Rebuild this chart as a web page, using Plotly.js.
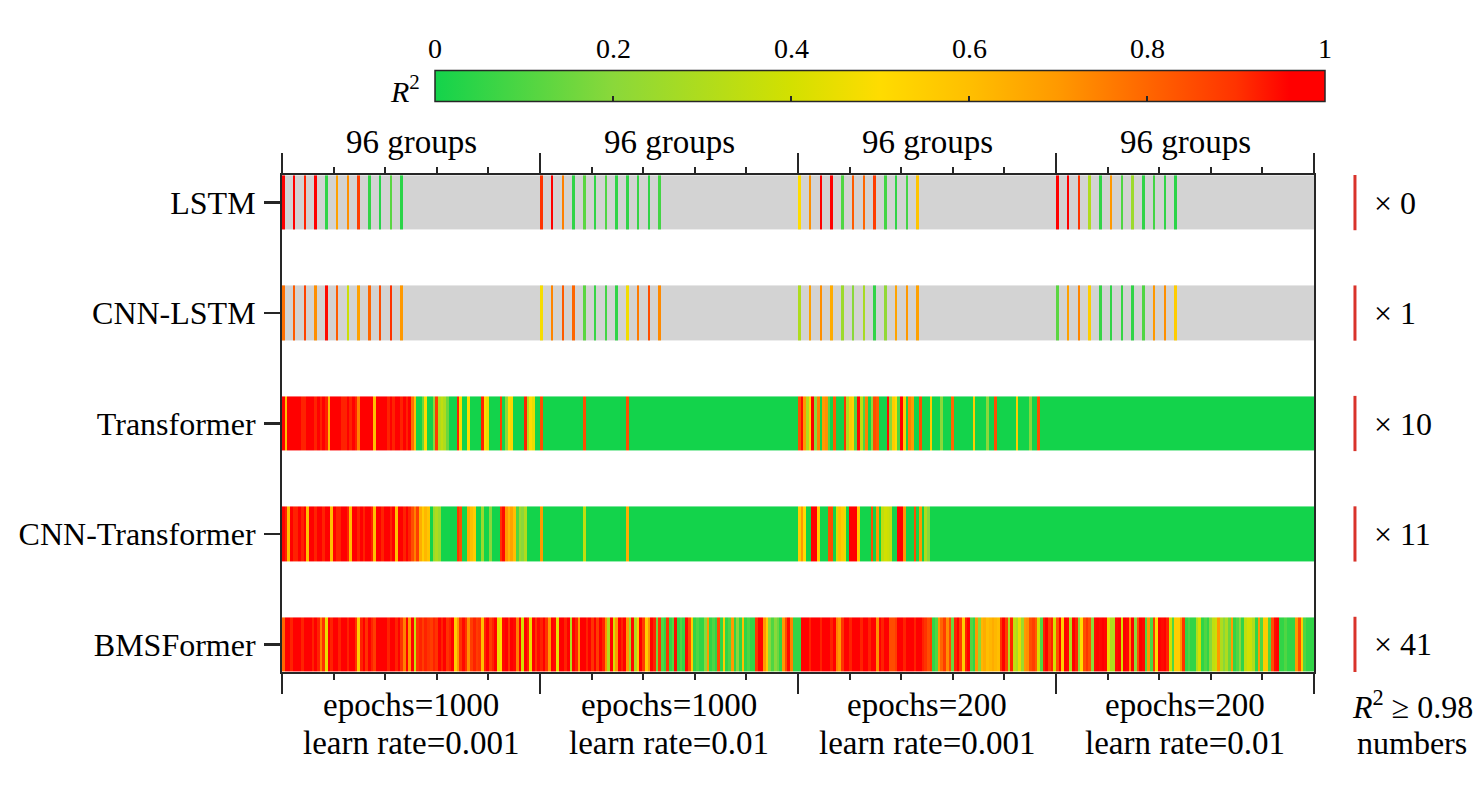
<!DOCTYPE html>
<html>
<head>
<meta charset="utf-8">
<script src="https://cdn.plot.ly/plotly-3.0.1.min.js"></script>
<style>
  html, body { margin: 0; padding: 0; background: #fff; }
  #chart { width: 1482px; height: 795px; }
</style>
</head>
<body>
<div id="chart"></div>
<script>
// ---- data ----
var groupSize = 96;
var models = ["LSTM", "CNN-LSTM", "Transformer", "CNN-Transformer", "BMSFormer"];
var topLabels = ["96 groups", "96 groups", "96 groups", "96 groups"];
var epochLabels = ["epochs=1000", "epochs=1000", "epochs=200", "epochs=200"];
var rateLabels = ["learn rate=0.001", "learn rate=0.01", "learn rate=0.001", "learn rate=0.01"];
var highCounts = [0, 1, 10, 11, 41];
var cbTicks = [0, 0.2, 0.4, 0.6, 0.8, 1];

// LSTM / CNN-LSTM only have results at these positions inside each group
var stripeOffsets = [0, 4, 8, 12, 16, 20, 24, 28, 32, 36, 40, 44];

var lstmG1 = [0.97, 0.97, 0.92, 0.96, 0.05, 0.68, 0.72, 0.88, 0.05, 0.03, 0.12, 0.04];
var lstmG2 = [0.9, 0.97, 0.75, 0.05, 0.12, 0.05, 0.1, 0.05, 0.05, 0.06, 0.05, 0.08];
var lstmG3 = [0.5, 0.72, 0.96, 0.97, 0.1, 0.82, 0.8, 0.88, 0.08, 0.05, 0.08, 0.58];
var lstmG4 = [0.98, 0.97, 0.9, 0.3, 0.05, 0.7, 0.1, 0.25, 0.05, 0.08, 0.05, 0.04];

var cnnLstmG1 = [0.78, 0.82, 0.87, 0.72, 0.95, 0.82, 0.38, 0.68, 0.8, 0.85, 0.9, 0.7];
var cnnLstmG2 = [0.48, 0.74, 0.82, 0.8, 0.12, 0.06, 0.08, 0.05, 0.47, 0.76, 0.85, 0.73];
var cnnLstmG3 = [0.3, 0.68, 0.72, 0.65, 0.25, 0.2, 0.28, 0.05, 0.22, 0.67, 0.7, 0.68];
var cnnLstmG4 = [0.12, 0.68, 0.74, 0.55, 0.06, 0.05, 0.06, 0.05, 0.1, 0.7, 0.72, 0.55];

var transG1 = [
  0.97, 0.6, 0.97, 0.97, 0.97, 0.97, 0.97, 0.92, 0.92, 0.97, 0.97, 0.97,
  0.92, 0.97, 0.92, 0.97, 0.92, 0.62, 0.97, 0.97, 0.97, 0.97, 0.92, 0.92,
  0.97, 0.92, 0.97, 0.92, 0.75, 0.97, 0.97, 0.97, 0.97, 0.97, 0.6, 0.97,
  0.97, 0.97, 0.97, 0.92, 0.97, 0.92, 0.97, 0.97, 0.92, 0.97, 0.92, 0.97,
  0.78, 0.6, 0, 0, 0.15, 0.5, 0, 0, 0.2, 0.88, 0.3, 0.35,
  0.3, 0.15, 0, 0, 0, 0.92, 0.5, 0, 0, 0.5, 0, 0,
  0, 0, 0.92, 0.5, 0.45, 0, 0, 0, 0, 0.88, 0, 0.2,
  0.5, 0.52, 0, 0, 0, 0, 0.92, 0.3, 0.5, 0.45, 0, 0
];
var transG2 = [
  0.85, 0, 0, 0, 0, 0, 0, 0, 0, 0, 0, 0,
  0, 0, 0, 0, 0.85, 0, 0, 0, 0, 0, 0, 0,
  0, 0, 0, 0, 0, 0, 0, 0, 0.85, 0, 0, 0,
  0, 0, 0, 0, 0, 0, 0, 0, 0, 0, 0, 0,
  0, 0, 0, 0, 0, 0, 0, 0, 0, 0, 0, 0,
  0, 0, 0, 0, 0, 0, 0, 0, 0, 0, 0, 0,
  0, 0, 0, 0, 0, 0, 0, 0, 0, 0, 0, 0,
  0, 0, 0, 0, 0, 0, 0, 0, 0, 0, 0, 0
];
var transG3 = [
  0.85, 0.95, 0.7, 0.3, 0.52, 0.97, 0.2, 0.75, 0, 0.7, 0.72, 0.1,
  0, 0.82, 0, 0, 0, 0.9, 0.3, 0.55, 0.52, 0.1, 0.95, 0.35,
  0.1, 0.75, 0, 0.2, 0.85, 0.82, 0, 0, 0, 0.95, 0.2, 0.55,
  0.5, 0.1, 0.97, 0.55, 0, 0.75, 0.7, 0, 0, 0.85, 0, 0,
  0, 0.55, 0, 0, 0, 0.2, 0, 0, 0, 0.8, 0, 0,
  0, 0, 0, 0, 0, 0.55, 0, 0, 0, 0, 0.2, 0,
  0, 0.85, 0, 0, 0, 0, 0, 0, 0, 0.55, 0, 0,
  0, 0, 0.2, 0, 0, 0.85, 0, 0, 0, 0, 0, 0
];
var transG4 = [
  0, 0, 0, 0, 0, 0, 0, 0, 0, 0, 0, 0,
  0, 0, 0, 0, 0, 0, 0, 0, 0, 0, 0, 0,
  0, 0, 0, 0, 0, 0, 0, 0, 0, 0, 0, 0,
  0, 0, 0, 0, 0, 0, 0, 0, 0, 0, 0, 0,
  0, 0, 0, 0, 0, 0, 0, 0, 0, 0, 0, 0,
  0, 0, 0, 0, 0, 0, 0, 0, 0, 0, 0, 0,
  0, 0, 0, 0, 0, 0, 0, 0, 0, 0, 0, 0,
  0, 0, 0, 0, 0, 0, 0, 0, 0, 0, 0, 0
];

var cnnTransG1 = [
  0.97, 0.92, 0.6, 0.97, 0.92, 0.92, 0.97, 0.92, 0.97, 0.6, 0.97, 0.97,
  0.92, 0.97, 0.97, 0.92, 0.97, 0.97, 0.6, 0.97, 0.92, 0.92, 0.97, 0.97,
  0.92, 0.6, 0.97, 0.97, 0.92, 0.97, 0.92, 0.97, 0.97, 0.92, 0.6, 0.97,
  0.97, 0.92, 0.97, 0.97, 0.92, 0.97, 0.6, 0.97, 0.97, 0.92, 0.97, 0.92,
  0.85, 0.75, 0.88, 0.65, 0.55, 0.62, 0.58, 0, 0.25, 0.3, 0.25, 0,
  0, 0, 0, 0, 0, 0.9, 0.85, 0, 0, 0.65, 0.6, 0.55,
  0, 0, 0.25, 0, 0, 0.2, 0, 0, 0, 0.9, 0.95, 0.7,
  0.62, 0.68, 0.6, 0.1, 0.25, 0.2, 0.3, 0, 0, 0, 0, 0
];
var cnnTransG2 = [
  0.7, 0, 0, 0, 0, 0, 0, 0, 0, 0, 0, 0,
  0, 0, 0, 0, 0.35, 0, 0, 0, 0, 0, 0, 0,
  0, 0, 0, 0, 0, 0, 0, 0, 0.65, 0, 0, 0,
  0, 0, 0, 0, 0, 0, 0, 0, 0, 0, 0, 0,
  0, 0, 0, 0, 0, 0, 0, 0, 0, 0, 0, 0,
  0, 0, 0, 0, 0, 0, 0, 0, 0, 0, 0, 0,
  0, 0, 0, 0, 0, 0, 0, 0, 0, 0, 0, 0,
  0, 0, 0, 0, 0, 0, 0, 0, 0, 0, 0, 0
];
var cnnTransG3 = [
  0.55, 0.7, 0.5, 0, 0, 0.97, 0.97, 0.55, 0, 0, 0, 0.85,
  0.85, 0, 0.4, 0.6, 0.55, 0.45, 0, 0.97, 0.97, 0.97, 0.55, 0,
  0, 0, 0, 0.85, 0, 0.7, 0, 0.35, 0.4, 0.38, 0.35, 0,
  0, 0.97, 0.97, 0.7, 0, 0, 0, 0.85, 0, 0.7, 0, 0.3,
  0.2, 0, 0, 0, 0, 0, 0, 0, 0, 0, 0, 0,
  0, 0, 0, 0, 0, 0, 0, 0, 0, 0, 0, 0,
  0, 0, 0, 0, 0, 0, 0, 0, 0, 0, 0, 0,
  0, 0, 0, 0, 0, 0, 0, 0, 0, 0, 0, 0
];
var cnnTransG4 = [
  0, 0, 0, 0, 0, 0, 0, 0, 0, 0, 0, 0,
  0, 0, 0, 0, 0, 0, 0, 0, 0, 0, 0, 0,
  0, 0, 0, 0, 0, 0, 0, 0, 0, 0, 0, 0,
  0, 0, 0, 0, 0, 0, 0, 0, 0, 0, 0, 0,
  0, 0, 0, 0, 0, 0, 0, 0, 0, 0, 0, 0,
  0, 0, 0, 0, 0, 0, 0, 0, 0, 0, 0, 0,
  0, 0, 0, 0, 0, 0, 0, 0, 0, 0, 0, 0,
  0, 0, 0, 0, 0, 0, 0, 0, 0, 0, 0, 0
];

var bmsG1 = [
  0.8, 0.97, 0.97, 0.92, 0.97, 0.97, 0.97, 0.92, 0.97, 0.97, 0.97, 0.92,
  0.97, 0.92, 0.75, 0.9, 0.45, 0.97, 0.92, 0.97, 0.97, 0.92, 0.97, 0.97,
  0.92, 0.97, 0.97, 0.9, 0.55, 0.92, 0.97, 0.9, 0.97, 0.92, 0.88, 0.97,
  0.97, 0.97, 0.97, 0.92, 0.97, 0.97, 0.92, 0.97, 0.9, 0.75, 0.97, 0.7,
  0.97, 0.35, 0.9, 0.92, 0.88, 0.92, 0.9, 0.88, 0.92, 0.9, 0.97, 0.92,
  0.97, 0.9, 0.92, 0.97, 0.55, 0.7, 0.9, 0.95, 0.9, 0.72, 0.88, 0.92,
  0.88, 0.9, 0.6, 0.92, 0.97, 0.88, 0.92, 0.97, 0.45, 0.5, 0.95, 0.97,
  0.9, 0.97, 0.95, 0.75, 0.97, 0.4, 0.97, 0.92, 0.45, 0.97, 0.9, 0.95
];
var bmsG2 = [
  0.92, 0.97, 0.9, 0.7, 0.97, 0.95, 0.45, 0.97, 0.97, 0.92, 0.97, 0.3,
  0.97, 0.92, 0.7, 0.97, 0.97, 0.92, 0.97, 0.9, 0.97, 0.88, 0.97, 0.92,
  0.72, 0.3, 0.97, 0.4, 0.7, 0.97, 0.92, 0.97, 0.7, 0.25, 0.95, 0.3,
  0.55, 0.97, 0.88, 0.55, 0.7, 0.97, 0.92, 0.15, 0.9, 0.1, 0.05, 0.9,
  0.05, 0.1, 0.95, 0.05, 0.1, 0.05, 0.95, 0.85, 0.55, 0.05, 0.1, 0.05,
  0.05, 0.2, 0.7, 0.05, 0.1, 0.05, 0.85, 0.05, 0.55, 0.05, 0.1, 0.7,
  0.05, 0.2, 0.05, 0.6, 0.05, 0.1, 0.05, 0.05, 0.9, 0.97, 0.97, 0.7,
  0.55, 0.2, 0.1, 0.2, 0.15, 0.05, 0.7, 0.85, 0.95, 0.75, 0.05, 0.05
];
var bmsG3 = [
  0.05, 0.97, 0.97, 0.97, 0.92, 0.97, 0.97, 0.97, 0.92, 0.97, 0.97, 0.97,
  0.92, 0.97, 0.75, 0.7, 0.9, 0.97, 0.97, 0.92, 0.97, 0.97, 0.97, 0.92,
  0.97, 0.97, 0.92, 0.97, 0.97, 0.72, 0.97, 0.92, 0.97, 0.97, 0.85, 0.85,
  0.88, 0.97, 0.97, 0.92, 0.97, 0.97, 0.97, 0.92, 0.97, 0.97, 0.92, 0.9,
  0.85, 0.88, 0.05, 0.1, 0.7, 0.8, 0.88, 0.72, 0.85, 0.15, 0.92, 0.97,
  0.88, 0.55, 0.92, 0.97, 0.1, 0.05, 0.7, 0.2, 0.62, 0.65, 0.6, 0.62,
  0.65, 0.62, 0.6, 0.9, 0.97, 0.88, 0.3, 0.92, 0.35, 0.3, 0.45, 0.25,
  0.7, 0.72, 0.85, 0.88, 0.82, 0.4, 0.1, 0.92, 0.97, 0.88, 0.92, 0.4
];
var bmsG4 = [
  0.85, 0.97, 0.55, 0.97, 0.95, 0.3, 0.97, 0.92, 0.2, 0.5, 0.85, 0.9,
  0.85, 0.2, 0.95, 0.97, 0.95, 0.97, 0.95, 0.45, 0.3, 0.3, 0.95, 0.97,
  0.4, 0.97, 0.95, 0.72, 0.97, 0.2, 0.85, 0.97, 0.95, 0.1, 0.7, 0.1,
  0.88, 0.5, 0.97, 0.95, 0.97, 0.92, 0.4, 0.1, 0.55, 0.55, 0.7, 0.9,
  0.05, 0.1, 0.05, 0.05, 0.3, 0.4, 0.05, 0.1, 0.05, 0.2, 0.35, 0.38,
  0.7, 0.3, 0.2, 0.3, 0.15, 0.7, 0.05, 0.1, 0.2, 0.05, 0.35, 0.4,
  0.38, 0.3, 0.05, 0.7, 0.1, 0.55, 0.55, 0.1, 0.85, 0.95, 0.97, 0.05,
  0.05, 0.1, 0.05, 0.05, 0.05, 0.7, 0.85, 0.55, 0.1, 0.05, 0.05, 0.05
];

// ---- build heatmap rows ----
function stripeRow(groups) {
  var row = [];
  for (var g = 0; g < groups.length; g++) {
    for (var j = 0; j < groupSize; j++) row.push(null);
    for (var k = 0; k < stripeOffsets.length; k++) {
      row[g * groupSize + stripeOffsets[k]] = groups[g][k];
    }
  }
  return row;
}

var zRows = [
  stripeRow([lstmG1, lstmG2, lstmG3, lstmG4]),
  stripeRow([cnnLstmG1, cnnLstmG2, cnnLstmG3, cnnLstmG4]),
  transG1.concat(transG2, transG3, transG4),
  cnnTransG1.concat(cnnTransG2, cnnTransG3, cnnTransG4),
  bmsG1.concat(bmsG2, bmsG3, bmsG4)
];
var nCols = zRows[4].length;

// gray backdrop for the rows that have untested groups
var grayRows = zRows.map(function (row) {
  var hasGaps = row.some(function (v) { return v === null; });
  return row.map(function () { return hasGaps ? 1 : null; });
});

var r2Scale = [
  [0, "#13d34b"], [0.2, "#8ad83a"], [0.4, "#d3e000"], [0.5, "#ffdc00"],
  [0.6, "#ffbf00"], [0.7, "#ff9900"], [0.8, "#ff6600"], [0.9, "#ff3300"],
  [0.96, "#ff0000"], [1, "#ff0000"]
];

var lineCol = "#262626";
var serif = "Liberation Serif, Times New Roman, serif";
var txtSize = 33;
var rowGap = 56;

// colorbar geometry (paper units of the plot area)
var cbX0 = 0.1483, cbLen = 0.8624;

var traces = [
  {
    type: "heatmap",
    z: grayRows,
    y: models,
    colorscale: [[0, "#d3d3d3"], [1, "#d3d3d3"]],
    zmin: 0, zmax: 1,
    showscale: false,
    ygap: rowGap,
    hoverinfo: "skip"
  },
  {
    type: "heatmap",
    z: zRows,
    y: models,
    colorscale: r2Scale,
    zmin: 0, zmax: 1,
    ygap: rowGap,
    colorbar: {
      orientation: "h",
      x: cbX0 + cbLen / 2, xanchor: "center",
      y: 1.133, yanchor: "bottom",
      len: cbLen, lenmode: "fraction",
      thickness: 31, thicknessmode: "pixels",
      xpad: 0, ypad: 0,
      outlinewidth: 1.5, outlinecolor: lineCol,
      ticks: "inside", ticklen: 6, tickwidth: 1.5, tickcolor: lineCol,
      tickvals: cbTicks,
      showticklabels: false
    }
  }
];

var annotations = [];
var shapes = [];

function label(x, xref, y, yref, text, size, xanchor) {
  return {
    x: x, xref: xref, y: y, yref: yref,
    xanchor: xanchor || "center", yanchor: "middle",
    text: text, showarrow: false,
    font: { family: serif, size: size, color: "#000" }
  };
}

for (var g = 0; g < topLabels.length; g++) {
  var cx = g * groupSize + groupSize / 2 - 0.5;
  annotations.push(label(cx, "x", 1.066, "paper", topLabels[g], txtSize));
  annotations.push(label(cx, "x", -0.067, "paper", epochLabels[g], txtSize));
  annotations.push(label(cx, "x", -0.142, "paper", rateLabels[g], txtSize));
}

for (var i = 0; i < models.length; i++) {
  shapes.push({
    type: "line", xref: "paper", yref: "y",
    x0: 1.0397, x1: 1.0397, y0: i - 0.25, y1: i + 0.25,
    line: { color: "#d9332b", width: 3 }
  });
  annotations.push(label(1.0562, "paper", models[i], "y", "\u00d7 " + highCounts[i], 32, "left"));
}

annotations.push(label(1.095, "paper", -0.067, "paper", "<i>R</i><sup>2</sup> \u2265 0.98", 32));
annotations.push(label(1.095, "paper", -0.142, "paper", "numbers", 32));

for (var t = 0; t < cbTicks.length; t++) {
  annotations.push(label(cbX0 + cbTicks[t] * cbLen, "paper", 1.2555, "paper", String(cbTicks[t]), 28));
}
annotations.push(label(0.119, "paper", 1.173, "paper", "<i>R</i><sup>2</sup>", 30));

var boundaries = [];
for (var b = 0; b <= nCols / groupSize; b++) boundaries.push(b * groupSize - 0.5);

var layout = {
  width: 1482,
  height: 795,
  margin: { l: 282, r: 168, t: 175, b: 123 },
  paper_bgcolor: "#fff",
  plot_bgcolor: "#fff",
  showlegend: false,
  font: { family: serif, color: "#000" },
  xaxis: {
    range: [-0.5, nCols - 0.5],
    tickvals: boundaries,
    showticklabels: false,
    ticks: "outside", ticklen: 20, tickwidth: 2, tickcolor: lineCol,
    showline: true, linewidth: 2, linecolor: lineCol,
    mirror: "ticks",
    showgrid: false, zeroline: false,
    minor: {
      tick0: -0.5, dtick: groupSize / 5,
      ticks: "outside", ticklen: 6, tickwidth: 2, tickcolor: lineCol,
      showgrid: false
    }
  },
  yaxis: {
    type: "category",
    categoryarray: models,
    range: [models.length - 0.75, -0.25],
    ticks: "outside", ticklen: 16, tickwidth: 2.5, tickcolor: lineCol,
    ticklabelstandoff: 2,
    tickfont: { family: serif, size: 32, color: "#000" },
    showline: true, linewidth: 2, linecolor: lineCol,
    mirror: true,
    showgrid: false, zeroline: false
  },
  annotations: annotations,
  shapes: shapes
};

Plotly.newPlot("chart", traces, layout, { displayModeBar: false, staticPlot: true });
</script>
</body>
</html>
